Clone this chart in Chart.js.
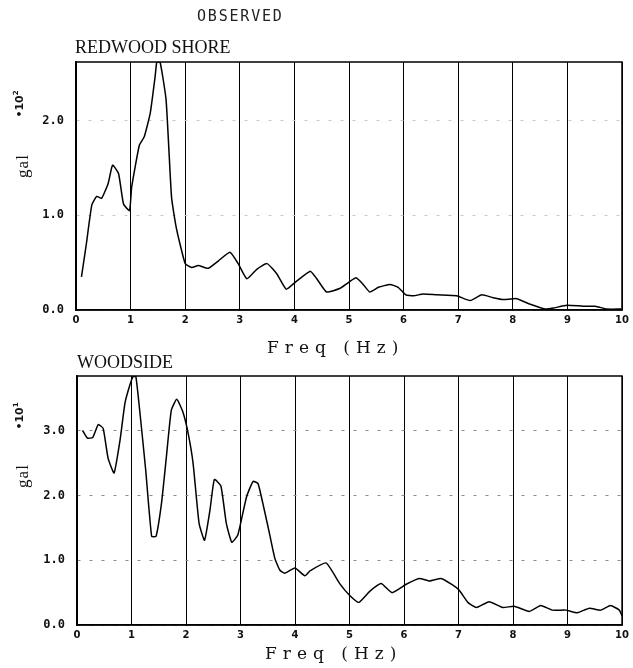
<!DOCTYPE html>
<html>
<head>
<meta charset="utf-8">
<script src="https://cdn.jsdelivr.net/npm/chart.js@4"></script>
<style>
  body { margin:0; background:#fff; }
  #wrap { position:relative; width:633px; height:668px; overflow:hidden; }
  canvas { position:absolute; left:0; }
  .txt { position:absolute; color:#111; white-space:pre; line-height:1; }
  .rot { position:absolute; color:#111; white-space:nowrap; line-height:1;
         transform:translate(-50%,-50%) rotate(-90deg); }
</style>
</head>
<body>
<div id="wrap">
  <canvas id="top-chart" width="633" height="330" style="top:0"></canvas>
  <canvas id="bottom-chart" width="633" height="305" style="top:340px"></canvas>

  <div class="txt" style="left:197px;top:7px;font:15px 'DejaVu Sans Mono';letter-spacing:1.8px;color:#222">OBSERVED</div>
  <div class="txt" style="left:75px;top:37px;font:18px 'Liberation Serif'">REDWOOD SHORE</div>
  <div class="rot" style="left:23px;top:166px;font:17px 'Liberation Serif';letter-spacing:1px">gal</div>
  <div class="rot" style="left:19px;top:104px;font:bold 11px 'DejaVu Sans'">&bull;10<sup style="font-size:7px">2</sup></div>
  <div class="txt" style="left:267px;top:337px;font:17px 'DejaVu Serif';letter-spacing:6px">Freq (Hz)</div>

  <div class="txt" style="left:77px;top:352px;font:18px 'Liberation Serif'">WOODSIDE</div>
  <div class="rot" style="left:23px;top:476px;font:17px 'Liberation Serif';letter-spacing:1px">gal</div>
  <div class="rot" style="left:19px;top:416px;font:bold 11px 'DejaVu Sans'">&bull;10<sup style="font-size:7px">1</sup></div>
  <div class="txt" style="left:265px;top:643px;font:17px 'DejaVu Serif';letter-spacing:6px">Freq (Hz)</div>
</div>
<script>
// Redwood Shore spectrum (gal * 10^2)
const rsFreq = [0.10,0.19,0.29,0.38,0.47,0.59,0.67,0.78,0.87,0.98,1.02,1.16,1.25,1.36,1.45,1.48,1.54,1.65,1.75,1.84,
  2.00,2.12,2.24,2.42,2.61,2.82,2.97,3.13,3.31,3.50,3.68,3.85,4.01,4.29,4.41,4.59,4.84,4.99,5.13,5.26,5.38,5.54,5.75,5.90,
  6.04,6.18,6.36,6.61,6.97,7.22,7.43,7.64,7.83,8.07,8.32,8.59,8.74,8.99,9.29,9.51,9.72,9.99];
const rsAmp = [0.35,0.70,1.11,1.20,1.18,1.34,1.53,1.44,1.12,1.05,1.30,1.74,1.83,2.08,2.47,2.62,2.62,2.22,1.19,0.86,
  0.49,0.45,0.47,0.44,0.52,0.61,0.49,0.33,0.43,0.49,0.38,0.22,0.29,0.41,0.33,0.19,0.23,0.29,0.34,0.27,0.19,0.24,0.27,0.24,
  0.16,0.15,0.17,0.16,0.15,0.10,0.16,0.13,0.11,0.12,0.06,0.01,0.02,0.05,0.04,0.04,0.01,0.01];

// Woodside spectrum (gal * 10^1)
const wsFreq = [0.10,0.19,0.29,0.39,0.48,0.57,0.68,0.79,0.88,0.97,1.03,1.08,1.15,1.26,1.37,1.45,1.55,1.64,1.73,1.83,1.94,
  2.04,2.13,2.24,2.34,2.44,2.52,2.64,2.74,2.84,2.95,3.11,3.23,3.32,3.41,3.53,3.63,3.72,3.81,4.00,4.18,4.28,4.57,4.82,
  5.00,5.17,5.37,5.58,5.78,6.04,6.28,6.47,6.68,6.89,7.01,7.17,7.33,7.56,7.81,8.02,8.30,8.51,8.72,8.97,9.18,9.40,9.61,9.79,9.95,10.0];
const wsAmp = [3.01,2.89,2.90,3.10,3.04,2.58,2.35,2.86,3.43,3.71,3.84,3.84,3.32,2.40,1.37,1.37,1.88,2.60,3.32,3.49,3.30,
  2.96,2.50,1.57,1.31,1.78,2.25,2.15,1.57,1.28,1.39,1.98,2.22,2.19,1.88,1.42,1.03,0.85,0.80,0.88,0.76,0.84,0.96,0.64,
  0.46,0.35,0.52,0.64,0.50,0.63,0.72,0.68,0.72,0.62,0.54,0.35,0.27,0.36,0.27,0.29,0.21,0.30,0.23,0.23,0.19,0.26,0.23,0.30,0.23,0.14];

const xTicks = [0,1,2,3,4,5,6,7,8,9,10];

// box around the plot area
const frame = {
  id: "frame",
  afterDraw(chart){
    const a = chart.chartArea, c = chart.ctx;
    c.save();
    c.strokeStyle = "#000";
    c.lineWidth = 1.5;
    c.strokeRect(a.left, a.top, a.right - a.left, a.bottom - a.top);
    c.restore();
  }
};

function makeChart(id, freq, amp, yMax, pad, yWidth, gridCol){
  return new Chart(document.getElementById(id), {
    type: "line",
    data: {
      datasets: [{
        data: freq.map((f, i) => ({ x: f, y: amp[i] })),
        borderColor: "#000",
        borderWidth: 1.5,
        pointRadius: 0,
        tension: 0.15,
        fill: false
      }]
    },
    options: {
      responsive: false,
      animation: false,
      devicePixelRatio: 1,
      layout: { padding: pad },
      plugins: { legend: { display: false }, tooltip: { enabled: false } },
      scales: {
        x: {
          type: "linear", min: 0, max: 10,
          afterBuildTicks: s => { s.ticks = xTicks.map(v => ({ value: v })); },
          afterFit: s => { s.height = 20; },
          ticks: { autoSkip: false, maxRotation: 0, padding: 4, color: "#111",
                   font: { family: "DejaVu Sans", size: 10, weight: "bold" } },
          grid: { color: "#000", lineWidth: 1, drawTicks: false },
          border: { color: "#000", width: 1.5 }
        },
        y: {
          min: 0, max: yMax,
          afterFit: s => { s.width = yWidth; },
          ticks: { stepSize: 1, includeBounds: false, padding: 12, color: "#111",
                   callback: v => v.toFixed(1),
                   font: { family: "DejaVu Sans Mono", size: 12, weight: "bold" } },
          grid: { color: gridCol, lineWidth: 1, drawTicks: false },
          border: { color: "#000", width: 1.5, dash: [3, 9] }
        }
      }
    },
    plugins: [frame]
  });
}

makeChart("top-chart", rsFreq, rsAmp, 2.62, { left: 0, right: 11, top: 62, bottom: 0 }, 76, "#c8c8c8");
makeChart("bottom-chart", wsFreq, wsAmp, 3.85, { left: 0, right: 9, top: 36, bottom: 0 }, 77, "#8a8a8a");
</script>
</body>
</html>
